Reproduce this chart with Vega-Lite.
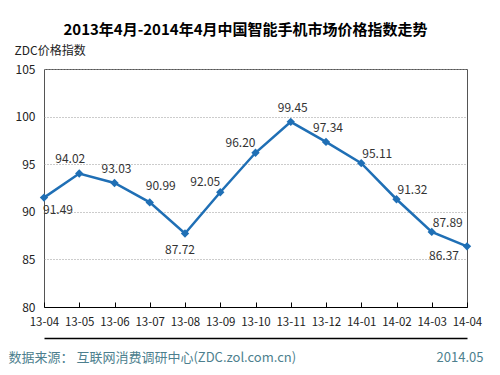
{
  "$schema": "https://vega.github.io/schema/vega-lite/v6.json",
  "width": 423,
  "height": 238,
  "autosize": {"type": "none"},
  "padding": {"left": 44, "top": 69, "right": 33, "bottom": 68},
  "background": "white",
  "title": {
    "text": "2013年4月-2014年4月中国智能手机市场价格指数走势",
    "font": "Noto Sans CJK SC",
    "fontSize": 15,
    "fontWeight": "bold",
    "color": "#000000",
    "anchor": "middle",
    "dx": -10,
    "offset": 6
  },
  "config": {
    "view": {"stroke": "#555555", "strokeWidth": 1},
    "font": "Noto Sans CJK SC",
    "text": {"font": "Noto Sans CJK SC", "fontSize": 12, "color": "#333333", "baseline": "middle", "align": "center"}
  },
  "data": {
    "values": [
      {"month": "13-04", "value": 91.49},
      {"month": "13-05", "value": 94.02},
      {"month": "13-06", "value": 93.03},
      {"month": "13-07", "value": 90.99},
      {"month": "13-08", "value": 87.72},
      {"month": "13-09", "value": 92.05},
      {"month": "13-10", "value": 96.20},
      {"month": "13-11", "value": 99.45},
      {"month": "13-12", "value": 97.34},
      {"month": "14-01", "value": 95.11},
      {"month": "14-02", "value": 91.32},
      {"month": "14-03", "value": 87.89},
      {"month": "14-04", "value": 86.37}
    ]
  },
  "encoding": {
    "x": {"field": "month", "type": "ordinal", "sort": null, "scale": {"type": "point", "padding": 0}},
    "y": {"field": "value", "type": "quantitative", "scale": {"domain": [80, 105], "nice": false, "zero": false}}
  },
  "resolve": {"axis": {"x": "independent", "y": "independent"}},
  "layer": [
    {
      "mark": {"type": "line", "color": "#1f6fb5", "strokeWidth": 2.5, "point": {"shape": "diamond", "size": 70, "filled": true, "color": "#1f6fb5", "opacity": 1}},
      "encoding": {
        "x": {"field": "month", "type": "ordinal", "sort": null, "scale": {"type": "point", "padding": 0},
          "axis": {"title": null, "labelAngle": 0, "labelFont": "Noto Sans CJK SC", "labelFontSize": 11.5, "labelColor": "#222222", "labelPadding": 14, "tickSize": -5, "tickColor": "#000000", "domainColor": "#000000", "domainWidth": 1, "grid": false}},
        "y": {"field": "value", "type": "quantitative", "scale": {"domain": [80, 105], "nice": false, "zero": false},
          "axis": {"values": [80, 85, 90, 95, 100, 105], "title": "ZDC价格指数", "titleAngle": 0, "titleAlign": "left", "titleBaseline": "middle", "titleX": -30, "titleY": -19, "titleFont": "Noto Sans CJK SC", "titleFontSize": 12, "titleFontWeight": "normal", "titleColor": "#222222", "labelFont": "Noto Sans CJK SC", "labelFontSize": 12, "labelColor": "#222222", "labelPadding": 9, "ticks": false, "domain": false, "grid": true, "gridColor": "#999999", "gridDash": [1, 2], "gridWidth": 1}}
      }
    },
    {
      "transform": [{"filter": {"field": "month", "oneOf": ["13-05"]}}],
      "mark": {"type": "text", "dx": -9, "dy": -15},
      "encoding": {"text": {"field": "value", "format": ".2f"},
        "x": {"field": "month", "type": "ordinal", "sort": null, "scale": {"type": "point", "padding": 0},
          "axis": {"orient": "bottom", "offset": 31, "labels": false, "ticks": false, "grid": false, "domainColor": "#000000", "domainWidth": 1.5, "title": "数据来源：  互联网消费调研中心(ZDC.zol.com.cn)", "titleAnchor": "start", "titleAlign": "left", "titleBaseline": "middle", "titleX": -36, "titleY": 19, "titleFont": "Noto Sans CJK SC", "titleFontSize": 13, "titleFontWeight": "normal", "titleColor": "#4d7f8e"}},
        "y": {"field": "value", "type": "quantitative", "scale": {"domain": [80, 105], "nice": false, "zero": false},
          "axis": {"orient": "right", "labels": false, "ticks": false, "grid": false, "domain": false, "title": "2014.05", "titleAngle": 0, "titleAlign": "right", "titleBaseline": "middle", "titleX": 16, "titleY": 288, "titleFont": "Noto Sans CJK SC", "titleFontSize": 13, "titleFontWeight": "normal", "titleColor": "#4d7f8e"}}
      }
    },
    {
      "transform": [{"filter": {"field": "month", "oneOf": ["13-09", "13-10"]}}],
      "mark": {"type": "text", "dx": -15, "dy": -10},
      "encoding": {"text": {"field": "value", "format": ".2f"}, "x": {"field": "month", "type": "ordinal", "sort": null, "axis": null}, "y": {"field": "value", "type": "quantitative", "axis": null}}
    },
    {
      "transform": [{"filter": {"field": "month", "oneOf": ["13-06", "13-11", "13-12"]}}],
      "mark": {"type": "text", "dx": 2, "dy": -14},
      "encoding": {"text": {"field": "value", "format": ".2f"}, "x": {"field": "month", "type": "ordinal", "sort": null, "axis": null}, "y": {"field": "value", "type": "quantitative", "axis": null}}
    },
    {
      "transform": [{"filter": {"field": "month", "oneOf": ["13-07"]}}],
      "mark": {"type": "text", "dx": 11, "dy": -16},
      "encoding": {"text": {"field": "value", "format": ".2f"}, "x": {"field": "month", "type": "ordinal", "sort": null, "axis": null}, "y": {"field": "value", "type": "quantitative", "axis": null}}
    },
    {
      "transform": [{"filter": {"field": "month", "oneOf": ["14-01", "14-02", "14-03"]}}],
      "mark": {"type": "text", "dx": 16, "dy": -9},
      "encoding": {"text": {"field": "value", "format": ".2f"}, "x": {"field": "month", "type": "ordinal", "sort": null, "axis": null}, "y": {"field": "value", "type": "quantitative", "axis": null}}
    },
    {
      "transform": [{"filter": {"field": "month", "oneOf": ["13-04"]}}],
      "mark": {"type": "text", "dx": 14, "dy": 12},
      "encoding": {"text": {"field": "value", "format": ".2f"}, "x": {"field": "month", "type": "ordinal", "sort": null, "axis": null}, "y": {"field": "value", "type": "quantitative", "axis": null}}
    },
    {
      "transform": [{"filter": {"field": "month", "oneOf": ["13-08"]}}],
      "mark": {"type": "text", "dx": -5, "dy": 16},
      "encoding": {"text": {"field": "value", "format": ".2f"}, "x": {"field": "month", "type": "ordinal", "sort": null, "axis": null}, "y": {"field": "value", "type": "quantitative", "axis": null}}
    },
    {
      "transform": [{"filter": {"field": "month", "oneOf": ["14-04"]}}],
      "mark": {"type": "text", "dx": -23, "dy": 10},
      "encoding": {"text": {"field": "value", "format": ".2f"}, "x": {"field": "month", "type": "ordinal", "sort": null, "axis": null}, "y": {"field": "value", "type": "quantitative", "axis": null}}
    }
  ]
}
